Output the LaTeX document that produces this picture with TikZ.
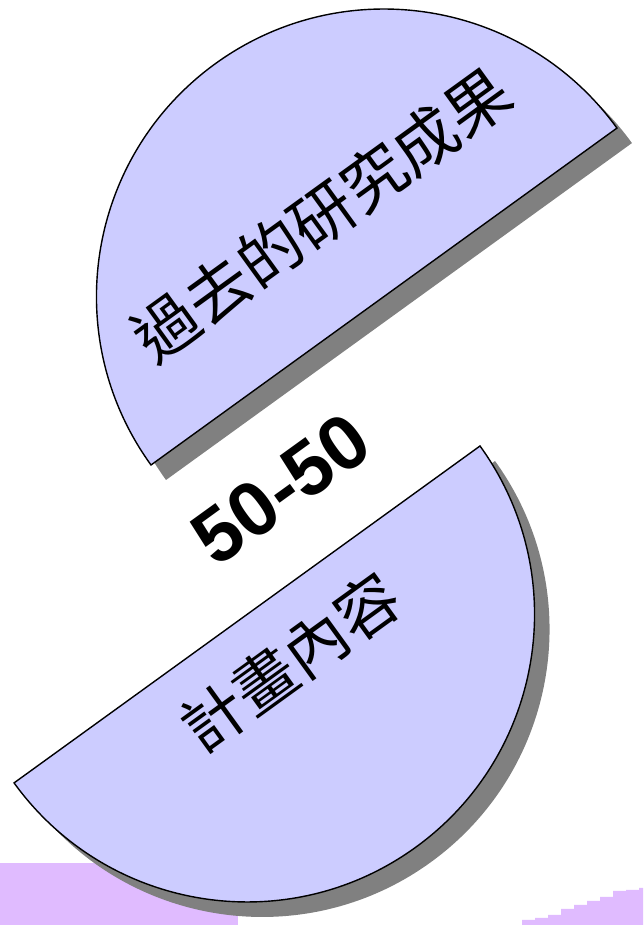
\documentclass[tikz,border=0pt]{standalone}
\usepackage{fontspec}
\setmainfont{Liberation Sans}
\newfontfamily\cjk{Noto Sans CJK TC}
\definecolor{halffill}{RGB}{204,204,255}
\definecolor{shadowgray}{RGB}{128,128,128}
\definecolor{lilac}{RGB}{224,187,255}
\begin{document}
\begin{tikzpicture}[x=1pt,y=1pt,
  half/.style={fill=halffill,draw=black,line width=1.4pt,line join=miter},
  halfshadow/.style={fill=shadowgray,draw=none},
  cjklabel/.style={font=\cjk\fontsize{64}{64}\selectfont,rotate=35.87,inner sep=0pt},
  ratio/.style={font=\bfseries\fontsize{77}{77}\selectfont,rotate=35.87,inner sep=0pt}]
\useasboundingbox (0,0) rectangle (643,925);
% background strips
\fill[lilac] (0,0) rectangle (238,62);
\fill[lilac] (522,0) |- (535,5) |- (548,7) |- (561,10) |- (574,16) |- (587,20) |- (600,24) |- (613,28) |- (626,34) |- (639,35) |- (643,37) -- (643,0) -- cycle;
% half discs
\coordinate (ua) at (151,460);
\coordinate (la) at (480,479);
\fill[halfshadow] ([shift={(15,-15)}]ua) arc[start angle=215.87,end angle=35.87,radius=287.5] -- cycle;
\fill[halfshadow] ([shift={(15,-15)}]la) arc[start angle=35.87,end angle=-144.13,radius=287.5] -- cycle;
\draw[half] (ua) arc[start angle=215.87,end angle=35.87,radius=287.5] -- cycle;
\draw[half] (la) arc[start angle=35.87,end angle=-144.13,radius=287.5] -- cycle;
% labels
\node[cjklabel] (past) at (322,710) {過去的研究成果};
\node[cjklabel,font=\cjk\fontsize{63}{63}\selectfont] (plan) at (290,263) {計畫內容};
\node[ratio] (ratio) at (281,436) {50-50};
\end{tikzpicture}
\end{document}
